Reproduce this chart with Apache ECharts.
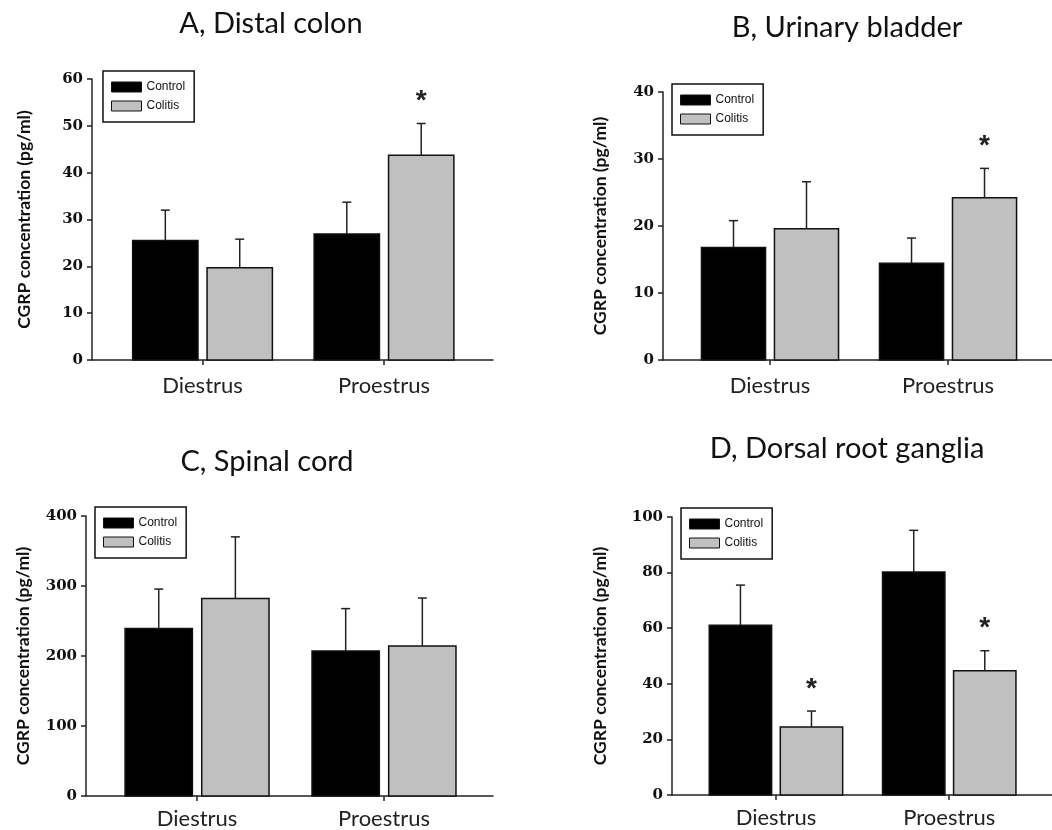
<!DOCTYPE html>
<html>
<head>
<meta charset="utf-8">
<script src="https://cdn.jsdelivr.net/npm/echarts@6/dist/echarts.min.js"></script>
<style>
html,body{margin:0;padding:0;background:#fff;}
#chart{width:1052px;height:830px;}
</style>
</head>
<body>
<div id="chart"></div>
<script>
// ---- data ----
const categories = ['Diestrus', 'Proestrus'];
const seriesNames = ['Control', 'Colitis'];
const panelTitles = ['A, Distal colon', 'B, Urinary bladder', 'C, Spinal cord', 'D, Dorsal root ganglia'];
const yMax = [60, 40, 400, 100];
const yInterval = [10, 10, 100, 20];

const aControl = [25.5, 26.9];
const aControlErr = [6.5, 6.8];
const aColitis = [19.7, 43.7];
const aColitisErr = [6.1, 6.8];
const aColitisStar = [0, 1];

const bControl = [16.8, 14.45];
const bControlErr = [4.0, 3.75];
const bColitis = [19.6, 24.2];
const bColitisErr = [7.0, 4.4];
const bColitisStar = [0, 1];

const cControl = [239.3, 207.1];
const cControlErr = [56.3, 60.6];
const cColitis = [282.3, 214.2];
const cColitisErr = [87.9, 68.6];
const cColitisStar = [0, 0];

const dControl = [61.1, 80.2];
const dControlErr = [14.4, 15.0];
const dColitis = [24.5, 44.7];
const dColitisErr = [5.7, 7.2];
const dColitisStar = [1, 1];

const noStar = [0, 0];

const panels = [
  {control: aControl, controlErr: aControlErr, colitis: aColitis, colitisErr: aColitisErr, star: aColitisStar},
  {control: bControl, controlErr: bControlErr, colitis: bColitis, colitisErr: bColitisErr, star: bColitisStar},
  {control: cControl, controlErr: cControlErr, colitis: cColitis, colitisErr: cColitisErr, star: cColitisStar},
  {control: dControl, controlErr: dControlErr, colitis: dColitis, colitisErr: dColitisErr, star: dColitisStar}
];

// ---- layout (positions / styles) ----
const grids = [
  {left: 92, top: 79, width: 401, height: 281},
  {left: 663, top: 92, width: 389, height: 268},
  {left: 86, top: 516, width: 407, height: 282},
  {left: 672, top: 517, width: 380, height: 278}
];
const xRange = [
  [-0.609, 1.6006],
  [-0.601, 1.584],
  [-0.594, 1.583],
  [-0.600, 1.593]
];
const xLabelMargin = [15, 15, 12, 12];
const yNameGap = [59, 54, 54, 63];
const legendPos = [
  {left: 103, top: 71},
  {left: 672, top: 84},
  {left: 95, top: 507},
  {left: 681, top: 508}
];
const titlePos = [[271, 24], [847, 28], [267, 462], [847, 449]];

const fills = ['#000000', '#c0c0c0'];
const axisColor = '#222';

function makeRender(side, fill) {
  return function (params, api) {
    const cat = api.value(0), v = api.value(1), e = api.value(2), s = api.value(3);
    const unit = api.size([1, 0])[0];
    const barW = unit * 0.36, gap = unit * 0.05;
    const base = api.coord([cat, 0]);
    const top = api.coord([cat, v]);
    const et = api.coord([cat, v + e]);
    const cx = base[0] + side * (barW / 2 + gap / 2);
    const children = [
      {type: 'rect', shape: {x: cx - barW / 2, y: top[1], width: barW, height: base[1] - top[1]},
       style: {fill: fill, stroke: '#111', lineWidth: 1.5}},
      {type: 'line', shape: {x1: cx, y1: top[1], x2: cx, y2: et[1]},
       style: {stroke: axisColor, lineWidth: 1.5}},
      {type: 'line', shape: {x1: cx - 4.5, y1: et[1], x2: cx + 4.5, y2: et[1]},
       style: {stroke: axisColor, lineWidth: 1.5}}
    ];
    if (s) {
      children.push({type: 'text', x: cx, y: et[1] - 22,
        style: {text: '*', font: 'bold 28px "Liberation Sans"', align: 'center', verticalAlign: 'middle', fill: '#222'}});
    }
    return {type: 'group', children: children};
  };
}

const option = {
  backgroundColor: '#ffffff',
  animation: false,
  grid: grids.map(g => Object.assign({containLabel: false}, g)),
  xAxis: grids.map((g, i) => ({
    type: 'value', gridIndex: i, min: xRange[i][0], max: xRange[i][1],
    axisLine: {show: true, onZero: false, lineStyle: {color: axisColor, width: 1.5}},
    axisTick: {show: true, length: 5, customValues: [0, 1], lineStyle: {color: axisColor, width: 1.5}},
    axisLabel: {show: true, customValues: [0, 1], margin: xLabelMargin[i],
      formatter: v => categories[Math.round(v)] || '',
      fontFamily: 'Lato', fontSize: 22, color: '#222'},
    splitLine: {show: false}
  })),
  yAxis: grids.map((g, i) => ({
    type: 'value', gridIndex: i, min: 0, max: yMax[i], interval: yInterval[i],
    name: 'CGRP concentration (pg/ml)', nameLocation: 'middle', nameGap: yNameGap[i],
    nameTextStyle: {fontFamily: 'Lato', fontWeight: 'bold', fontSize: 17.5, color: '#111'},
    axisLine: {show: true, onZero: false, lineStyle: {color: axisColor, width: 1.5}},
    axisTick: {show: true, length: 5, lineStyle: {color: axisColor, width: 1.5}},
    axisLabel: {margin: 9, fontFamily: 'DejaVu Serif', fontWeight: 'bold', fontSize: 15, color: '#111'},
    splitLine: {show: false}
  })),
  legend: legendPos.map(p => ({
    left: p.left, top: p.top, orient: 'vertical', selectedMode: false,
    itemWidth: 30, itemHeight: 10, itemGap: 7, padding: [10, 9, 10, 8],
    borderColor: '#111', borderWidth: 1.5, icon: 'rect',
    textStyle: {fontFamily: 'Liberation Sans', fontSize: 12, color: '#111'},
    data: seriesNames.map((n, k) => ({name: n, itemStyle: {color: fills[k], borderColor: '#111', borderWidth: 1}}))
  })),
  graphic: panelTitles.map((t, i) => ({
    type: 'text', x: titlePos[i][0], y: titlePos[i][1],
    style: {text: t, font: '29px Lato', fill: '#111', align: 'center', verticalAlign: 'middle'}
  })),
  series: []
};

panels.forEach((p, i) => {
  option.series.push({
    type: 'custom', name: seriesNames[0], xAxisIndex: i, yAxisIndex: i,
    itemStyle: {color: fills[0]},
    renderItem: makeRender(-1, fills[0]),
    data: categories.map((c, k) => [k, p.control[k], p.controlErr[k], noStar[k]])
  });
  option.series.push({
    type: 'custom', name: seriesNames[1], xAxisIndex: i, yAxisIndex: i,
    itemStyle: {color: fills[1]},
    renderItem: makeRender(1, fills[1]),
    data: categories.map((c, k) => [k, p.colitis[k], p.colitisErr[k], p.star[k]])
  });
});

const chart = echarts.init(document.getElementById('chart'), null, {renderer: 'canvas'});
chart.setOption(option);
</script>
</body>
</html>
